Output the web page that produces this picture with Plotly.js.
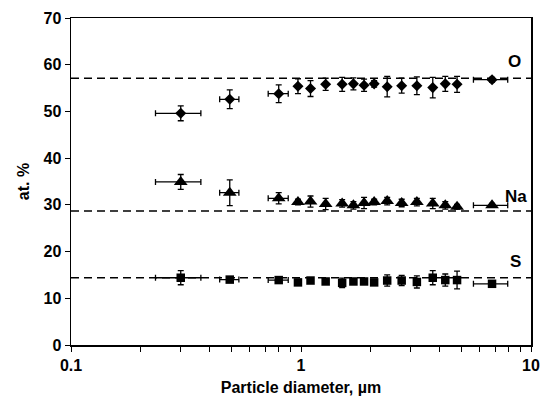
<!DOCTYPE html>
<html><head><meta charset="utf-8">
<script src="https://cdn.plot.ly/plotly-3.0.1.min.js"></script>
<style>body{margin:0;padding:0;background:#fff}#chart{width:541px;height:400px}</style>
</head><body><div id="chart"></div>
<script>
// particle diameters (µm)
const diam = [0.30, 0.49, 0.80, 0.97, 1.10, 1.28, 1.51, 1.69, 1.88, 2.08, 2.37, 2.74, 3.19, 3.74, 4.24, 4.77, 6.77];
const diamErr = [0.067, 0.047, 0.08, 0, 0, 0, 0, 0, 0, 0, 0, 0, 0, 0, 0, 0, 1.15];
// O at.%
const oVal = [49.6, 52.6, 53.8, 55.4, 54.9, 55.8, 55.8, 55.9, 55.6, 55.9, 55.3, 55.5, 55.5, 55.1, 55.9, 55.8, 56.8];
const oErr = [1.6, 2.0, 1.9, 1.6, 1.7, 1.3, 1.5, 1.3, 1.3, 0.7, 2.2, 1.6, 1.9, 2.2, 1.6, 1.7, 0.5];
// Na at.%
const naVal = [34.9, 32.6, 31.4, 30.6, 30.7, 30.2, 30.3, 29.9, 30.4, 30.6, 30.8, 30.4, 30.6, 30.3, 29.9, 29.6, 29.9];
const naErr = [1.6, 2.75, 1.2, 0.6, 1.2, 1.2, 0.8, 0.8, 1.2, 0.6, 0.8, 0.8, 0.8, 1.1, 0.8, 0.5, 0.4];
// S at.%
const sVal = [14.4, 14.0, 13.9, 13.4, 13.8, 13.6, 13.3, 13.6, 13.6, 13.4, 13.8, 13.8, 13.5, 14.4, 13.9, 13.9, 13.1];
const sErr = [1.5, 0.4, 0.5, 0.4, 0.4, 0.4, 1.0, 0.4, 0.4, 0.4, 1.2, 1.1, 1.3, 1.5, 1.3, 1.9, 0.4];
// reference (bulk) levels
const refNames = ["O", "Na", "S"];
const refLevels = [57.1, 28.7, 14.4];
const labelY = [60.6, 31.8, 17.9];
const labelX = [8.5, 8.6, 8.6];
// axis ticks
const xTickVals = [0.1,0.2,0.3,0.4,0.5,0.6,0.7,0.8,0.9,1,2,3,4,5,6,7,8,9,10];
const xTickText = ["0.1","","","","","","","","","1","","","","","","","","","10"];

const errStyle = {color:'#000', thickness:1.3, width:3};
function series(y, ey, sym, sz){
  return {
    x: diam, y: y, type:'scatter', mode:'markers',
    marker:{symbol:sym, size: sz, color:'#000'},
    error_y:Object.assign({type:'data', array:ey, visible:true}, errStyle),
    error_x:Object.assign({type:'data', array:diamErr, visible:true}, errStyle),
    showlegend:false, hoverinfo:'skip'
  };
}
const data = [series(oVal, oErr, 'diamond', 8.5), series(naVal, naErr, 'triangle-up', 12), series(sVal, sErr, 'square', 8.5)];

const shapes = refLevels.map(v => ({type:'line', xref:'paper', yref:'y', x0:0, x1:1, y0:v, y1:v,
  line:{color:'#000', width:1.6, dash:'8px,5px'}, layer:'below'}));
const FF = 'Liberation Sans, Arial, sans-serif';
const annotations = refNames.map((n,i)=>({x:Math.log10(labelX[i]), y:labelY[i], xref:'x', yref:'y', text:n, showarrow:false,
  font:{family:FF, size:17, color:'#000', weight:'bold'}}));

const layout = {
  width:541, height:400,
  margin:{l:71, r:10, t:18, b:55},
  paper_bgcolor:'#fff', plot_bgcolor:'#fff',
  font: {family:FF, color:'#000'},
  xaxis:{type:'log', range:[-1, 1], tickvals:xTickVals, ticktext:xTickText,
    ticks:'outside', ticklen:5, tickwidth:1, tickcolor:'#000',
    showline:true, linecolor:'#000', linewidth:1.5, mirror:true, showgrid:false, zeroline:false,
    tickfont:{family:FF, size:16, color:'#000', weight:'bold'},
    title:{text:'Particle diameter, µm', font:{family:FF, size:16, color:'#000', weight:'bold'}, standoff:9}},
  yaxis:{range:[0,70], dtick:10, ticks:'outside', ticklen:5, tickwidth:1, tickcolor:'#000',
    showline:true, linecolor:'#000', linewidth:1.5, mirror:true, showgrid:false, zeroline:false,
    tickfont:{family:FF, size:16, color:'#000', weight:'bold'},
    title:{text:'at. %', font:{family:FF, size:16, color:'#000', weight:'bold'}, standoff:10}},
  shapes: shapes, annotations: annotations, showlegend:false
};
Plotly.newPlot('chart', data, layout, {staticPlot:true, displayModeBar:false});
</script></body></html>
